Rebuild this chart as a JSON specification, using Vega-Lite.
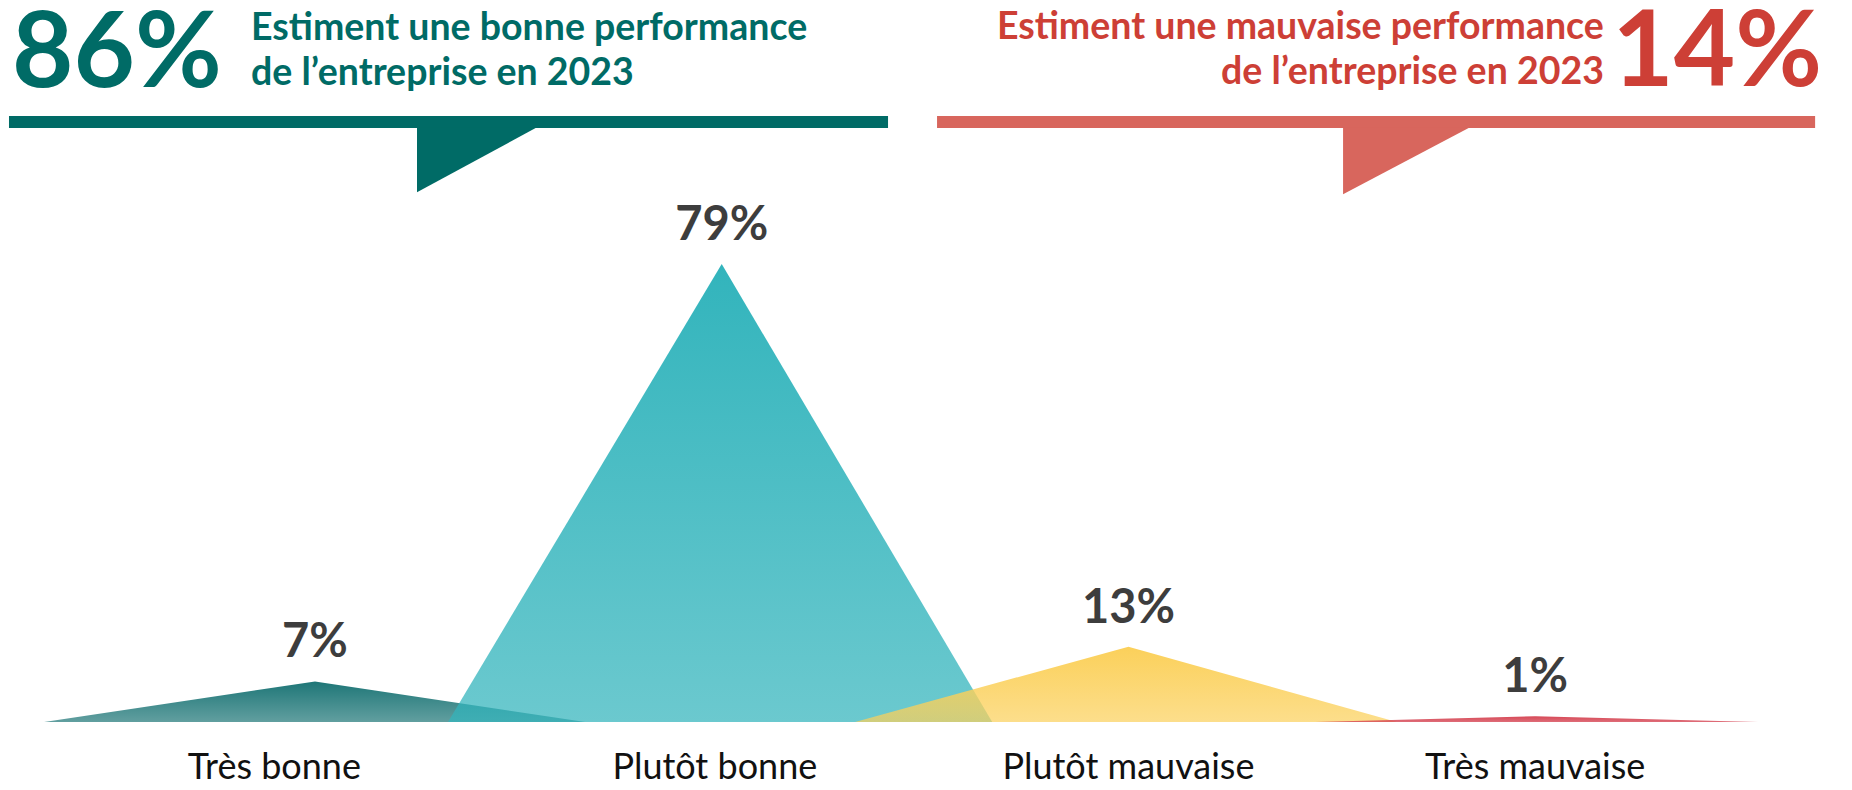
{
  "$schema": "https://vega.github.io/schema/vega-lite/v6.json",
  "width": 1852,
  "height": 790,
  "padding": 0,
  "autosize": {"type": "none"},
  "background": "white",
  "config": {"view": {"stroke": null}},
  "datasets": {
    "shapes": [
      {"s": "Très bonne", "x": 0.334, "y": 0},
      {"s": "Très bonne", "x": 1, "y": 7},
      {"s": "Très bonne", "x": 1.664, "y": 0},
      {"s": "Plutôt bonne", "x": 1.327, "y": 0},
      {"s": "Plutôt bonne", "x": 2, "y": 79},
      {"s": "Plutôt bonne", "x": 2.665, "y": 0},
      {"s": "Plutôt mauvaise", "x": 2.328, "y": 0},
      {"s": "Plutôt mauvaise", "x": 3, "y": 13},
      {"s": "Plutôt mauvaise", "x": 3.66, "y": 0},
      {"s": "Très mauvaise", "x": 3.459, "y": 0},
      {"s": "Très mauvaise", "x": 4, "y": 1},
      {"s": "Très mauvaise", "x": 4.548, "y": 0}
    ],
    "cats": [
      {"cat": "Très bonne", "pos": 1, "labelpos": 0.9, "value": 7, "label": "7%"},
      {"cat": "Plutôt bonne", "pos": 2, "labelpos": 1.983, "value": 79, "label": "79%"},
      {"cat": "Plutôt mauvaise", "pos": 3, "labelpos": 3, "value": 13, "label": "13%"},
      {"cat": "Très mauvaise", "pos": 4, "labelpos": 4, "value": 1, "label": "1%"}
    ]
  },
  "data": {"name": "shapes"},
  "layer": [
    {
      "transform": [{"filter": "datum.s == 'Très bonne'"}],
      "mark": {"type": "area", "color": {"gradient": "linear", "x1": 0, "y1": 0, "x2": 0, "y2": 1, "stops": [{"offset": 0, "color": "rgba(30,118,119,1)"}, {"offset": 1, "color": "rgba(30,118,119,0.7)"}]}},
      "encoding": {
        "x": {"field": "x", "type": "quantitative", "axis": null, "scale": {"domain": [0.2255, 4.779], "nice": false, "zero": false}},
        "y": {"field": "y", "type": "quantitative", "axis": null, "scale": {"domain": [-11.73, 124.55], "nice": false, "zero": false}}
      }
    },
    {
      "transform": [{"filter": "datum.s == 'Plutôt bonne'"}],
      "mark": {"type": "area", "color": {"gradient": "linear", "x1": 0, "y1": 0, "x2": 0, "y2": 1, "stops": [{"offset": 0, "color": "rgba(50,180,188,1)"}, {"offset": 1, "color": "rgba(50,180,188,0.72)"}]}},
      "encoding": {
        "x": {"field": "x", "type": "quantitative", "axis": null, "scale": {"domain": [0.2255, 4.779], "nice": false, "zero": false}},
        "y": {"field": "y", "type": "quantitative", "axis": null, "scale": {"domain": [-11.73, 124.55], "nice": false, "zero": false}}
      }
    },
    {
      "transform": [{"filter": "datum.s == 'Plutôt mauvaise'"}],
      "mark": {"type": "area", "color": {"gradient": "linear", "x1": 0, "y1": 0, "x2": 0, "y2": 1, "stops": [{"offset": 0, "color": "rgba(251,208,90,1)"}, {"offset": 1, "color": "rgba(251,208,90,0.7)"}]}},
      "encoding": {
        "x": {"field": "x", "type": "quantitative", "axis": null, "scale": {"domain": [0.2255, 4.779], "nice": false, "zero": false}},
        "y": {"field": "y", "type": "quantitative", "axis": null, "scale": {"domain": [-11.73, 124.55], "nice": false, "zero": false}}
      }
    },
    {
      "transform": [{"filter": "datum.s == 'Très mauvaise'"}],
      "mark": {"type": "area", "color": {"gradient": "linear", "x1": 0, "y1": 0, "x2": 0, "y2": 1, "stops": [{"offset": 0, "color": "rgba(214,72,86,1)"}, {"offset": 1, "color": "rgba(214,72,86,0.8)"}]}},
      "encoding": {
        "x": {"field": "x", "type": "quantitative", "axis": null, "scale": {"domain": [0.2255, 4.779], "nice": false, "zero": false}},
        "y": {"field": "y", "type": "quantitative", "axis": null, "scale": {"domain": [-11.73, 124.55], "nice": false, "zero": false}}
      }
    },
    {
      "data": {"name": "cats"},
      "mark": {"type": "text", "font": "Lato", "fontWeight": "bold", "fontSize": 47, "color": "#3d3d3d", "baseline": "alphabetic", "align": "center", "dy": -24},
      "encoding": {
        "x": {"field": "pos", "type": "quantitative", "axis": null, "scale": {"domain": [0.2255, 4.779], "nice": false, "zero": false}},
        "y": {"field": "value", "type": "quantitative", "axis": null, "scale": {"domain": [-11.73, 124.55], "nice": false, "zero": false}},
        "text": {"field": "label"}
      }
    },
    {
      "data": {"name": "cats"},
      "mark": {"type": "text", "font": "Lato", "fontSize": 36, "color": "#111111", "baseline": "alphabetic", "align": "center"},
      "encoding": {
        "x": {"field": "labelpos", "type": "quantitative", "axis": null, "scale": {"domain": [0.2255, 4.779], "nice": false, "zero": false}},
        "y": {"datum": -9.8, "type": "quantitative", "axis": null, "scale": {"domain": [-11.73, 124.55], "nice": false, "zero": false}},
        "text": {"field": "cat"}
      }
    },
    {
      "data": {"values": [{}]},
      "mark": {"type": "rect", "color": "#006b66"},
      "encoding": {
        "x": {"datum": 0.2476, "type": "quantitative", "axis": null, "scale": {"domain": [0.2255, 4.779], "nice": false, "zero": false}},
        "x2": {"datum": 2.4089},
        "y": {"datum": 104.54, "type": "quantitative", "axis": null, "scale": {"domain": [-11.73, 124.55], "nice": false, "zero": false}},
        "y2": {"datum": 102.47}
      }
    },
    {
      "data": {"values": [{}]},
      "mark": {"type": "rect", "color": "#d8665d"},
      "encoding": {
        "x": {"datum": 2.5294, "type": "quantitative", "axis": null, "scale": {"domain": [0.2255, 4.779], "nice": false, "zero": false}},
        "x2": {"datum": 4.6883},
        "y": {"datum": 104.54, "type": "quantitative", "axis": null, "scale": {"domain": [-11.73, 124.55], "nice": false, "zero": false}},
        "y2": {"datum": 102.47}
      }
    },
    {
      "data": {"values": [{}]},
      "mark": {"type": "point", "filled": true, "opacity": 1, "color": "#006b66", "strokeWidth": 0, "shape": "M0,0L1,0L0,0.542Z", "size": 57600},
      "encoding": {
        "x": {"datum": 1.2508, "type": "quantitative", "axis": null, "scale": {"domain": [0.2255, 4.779], "nice": false, "zero": false}},
        "y": {"datum": 102.6, "type": "quantitative", "axis": null, "scale": {"domain": [-11.73, 124.55], "nice": false, "zero": false}}
      }
    },
    {
      "data": {"values": [{}]},
      "mark": {"type": "point", "filled": true, "opacity": 1, "color": "#d8665d", "strokeWidth": 0, "shape": "M0,0L1,0L0,0.528Z", "size": 64516},
      "encoding": {
        "x": {"datum": 3.5277, "type": "quantitative", "axis": null, "scale": {"domain": [0.2255, 4.779], "nice": false, "zero": false}},
        "y": {"datum": 102.6, "type": "quantitative", "axis": null, "scale": {"domain": [-11.73, 124.55], "nice": false, "zero": false}}
      }
    },
    {
      "data": {"values": [{}]},
      "mark": {"type": "text", "font": "Lato", "fontWeight": "bold", "fontSize": 106, "color": "#006b66", "baseline": "alphabetic", "align": "left", "text": "86%"},
      "encoding": {
        "x": {"datum": 0.255, "type": "quantitative", "axis": null, "scale": {"domain": [0.2255, 4.779], "nice": false, "zero": false}},
        "y": {"datum": 109.54, "type": "quantitative", "axis": null, "scale": {"domain": [-11.73, 124.55], "nice": false, "zero": false}}
      }
    },
    {
      "data": {"values": [{}]},
      "mark": {"type": "text", "font": "Lato", "fontWeight": "bold", "fontSize": 37.5, "lineHeight": 45, "color": "#006b66", "baseline": "alphabetic", "align": "left", "text": ["Estiment une bonne performance", "de l’entreprise en 2023"]},
      "encoding": {
        "x": {"datum": 0.8427, "type": "quantitative", "axis": null, "scale": {"domain": [0.2255, 4.779], "nice": false, "zero": false}},
        "y": {"datum": 117.6, "type": "quantitative", "axis": null, "scale": {"domain": [-11.73, 124.55], "nice": false, "zero": false}}
      }
    },
    {
      "data": {"values": [{}]},
      "mark": {"type": "text", "font": "Lato", "fontWeight": "bold", "fontSize": 37.5, "lineHeight": 45, "color": "#cd3f36", "baseline": "alphabetic", "align": "right", "text": ["Estiment une mauvaise performance", "de l’entreprise en 2023"]},
      "encoding": {
        "x": {"datum": 4.169, "type": "quantitative", "axis": null, "scale": {"domain": [0.2255, 4.779], "nice": false, "zero": false}},
        "y": {"datum": 117.9, "type": "quantitative", "axis": null, "scale": {"domain": [-11.73, 124.55], "nice": false, "zero": false}}
      }
    },
    {
      "data": {"values": [{}]},
      "mark": {"type": "text", "font": "Lato", "fontWeight": "bold", "fontSize": 106, "color": "#cd3f36", "baseline": "alphabetic", "align": "right", "text": "14%"},
      "encoding": {
        "x": {"datum": 4.7056, "type": "quantitative", "axis": null, "scale": {"domain": [0.2255, 4.779], "nice": false, "zero": false}},
        "y": {"datum": 109.71, "type": "quantitative", "axis": null, "scale": {"domain": [-11.73, 124.55], "nice": false, "zero": false}}
      }
    }
  ]
}
